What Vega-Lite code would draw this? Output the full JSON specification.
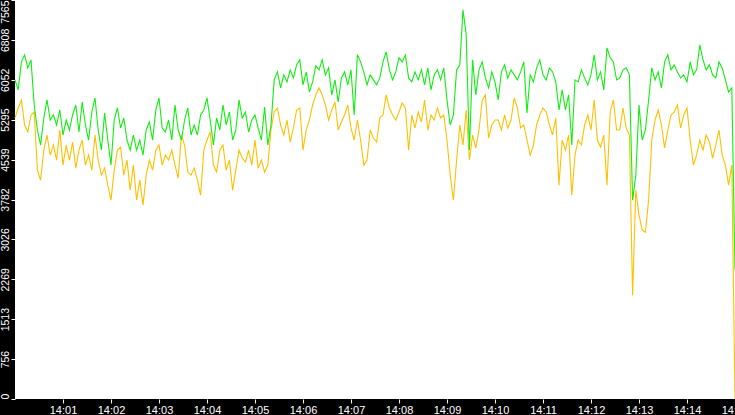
{
  "$schema": "https://vega.github.io/schema/vega-lite/v6.json",
  "description": "Two noisy series between 14:00 and 14:15",
  "width": 720,
  "height": 399,
  "autosize": "none",
  "padding": {"left": 15, "top": 0, "right": 0, "bottom": 16},
  "background": "black",
  "data": {
    "values": [
      {"s":0,"g":6050,"o":5328},{"s":4,"g":5860,"o":5518},{"s":8,"g":6392,"o":5670},{"s":12,"g":6525,"o":5195},
      {"s":16,"g":6278,"o":5062},{"s":20,"g":6430,"o":5385},{"s":24,"g":5575,"o":5442},{"s":28,"g":5100,"o":4340},
      {"s":32,"g":4815,"o":4150},{"s":36,"g":5328,"o":4720},{"s":40,"g":5670,"o":5005},{"s":44,"g":5290,"o":4625},
      {"s":48,"g":5385,"o":4815},{"s":52,"g":5195,"o":4530},{"s":56,"g":5480,"o":5100},{"s":60,"g":5005,"o":4435},
      {"s":64,"g":5290,"o":4815},{"s":68,"g":5100,"o":4530},{"s":72,"g":5385,"o":4872},{"s":76,"g":5575,"o":4378},
      {"s":80,"g":5062,"o":4720},{"s":84,"g":5632,"o":4910},{"s":88,"g":5195,"o":4435},{"s":92,"g":4910,"o":4625},
      {"s":96,"g":5442,"o":4340},{"s":100,"g":5708,"o":5005},{"s":104,"g":5100,"o":4530},{"s":108,"g":4720,"o":4245},
      {"s":112,"g":5423,"o":4378},{"s":116,"g":4910,"o":4055},{"s":120,"g":4435,"o":3770},{"s":124,"g":5290,"o":4340},
      {"s":128,"g":5518,"o":4720},{"s":132,"g":5138,"o":4777},{"s":136,"g":5328,"o":4245},{"s":140,"g":4910,"o":4530},
      {"s":144,"g":4720,"o":3960},{"s":148,"g":5005,"o":4435},{"s":152,"g":4720,"o":3770},{"s":156,"g":4910,"o":4150},
      {"s":160,"g":4625,"o":3675},{"s":164,"g":5100,"o":4245},{"s":168,"g":5252,"o":4530},{"s":172,"g":4910,"o":4340},
      {"s":176,"g":5480,"o":4720},{"s":180,"g":5708,"o":4815},{"s":184,"g":5138,"o":4435},{"s":188,"g":5062,"o":4625},
      {"s":192,"g":5290,"o":4530},{"s":196,"g":4910,"o":4720},{"s":200,"g":5575,"o":4435},{"s":204,"g":5100,"o":4188},
      {"s":208,"g":4910,"o":5005},{"s":212,"g":5290,"o":4815},{"s":216,"g":5518,"o":4302},{"s":220,"g":5005,"o":4245},
      {"s":224,"g":5195,"o":4378},{"s":228,"g":5005,"o":4150},{"s":232,"g":5385,"o":3865},{"s":236,"g":5480,"o":4720},
      {"s":240,"g":5708,"o":4910},{"s":244,"g":5290,"o":5062},{"s":248,"g":4815,"o":4435},{"s":252,"g":5328,"o":4302},
      {"s":256,"g":5100,"o":4720},{"s":260,"g":5575,"o":4815},{"s":264,"g":5195,"o":4340},{"s":268,"g":5442,"o":4530},
      {"s":272,"g":4910,"o":3960},{"s":276,"g":5100,"o":4340},{"s":280,"g":5670,"o":4720},{"s":284,"g":5328,"o":4568},
      {"s":288,"g":5442,"o":4492},{"s":292,"g":5062,"o":4720},{"s":296,"g":5290,"o":4435},{"s":300,"g":5385,"o":4910},
      {"s":304,"g":5138,"o":4378},{"s":308,"g":4910,"o":4530},{"s":312,"g":5537,"o":4302},{"s":316,"g":4815,"o":4435},
      {"s":320,"g":5195,"o":5100},{"s":324,"g":6050,"o":5442},{"s":328,"g":6202,"o":5518},{"s":332,"g":5898,"o":5195},
      {"s":336,"g":6145,"o":5005},{"s":340,"g":6012,"o":5290},{"s":344,"g":6240,"o":4872},{"s":348,"g":6088,"o":5138},
      {"s":352,"g":6335,"o":5480},{"s":356,"g":6430,"o":5518},{"s":360,"g":5955,"o":4720},{"s":364,"g":6202,"o":5100},
      {"s":368,"g":5822,"o":5290},{"s":372,"g":6012,"o":5575},{"s":376,"g":6316,"o":5765},{"s":380,"g":6240,"o":5898},
      {"s":384,"g":6430,"o":5765},{"s":388,"g":6145,"o":5575},{"s":392,"g":6278,"o":5290},{"s":396,"g":5765,"o":5480},
      {"s":400,"g":6050,"o":5632},{"s":404,"g":5632,"o":5100},{"s":408,"g":6088,"o":5252},{"s":412,"g":6202,"o":5385},
      {"s":416,"g":5955,"o":5575},{"s":420,"g":6240,"o":5138},{"s":424,"g":5385,"o":4910},{"s":428,"g":6525,"o":5290},
      {"s":432,"g":6392,"o":4910},{"s":436,"g":6202,"o":4435},{"s":440,"g":5955,"o":4530},{"s":444,"g":6145,"o":5100},
      {"s":448,"g":6050,"o":4948},{"s":452,"g":5955,"o":4872},{"s":456,"g":6088,"o":5328},{"s":460,"g":6392,"o":5385},
      {"s":464,"g":6582,"o":5765},{"s":468,"g":6240,"o":5518},{"s":472,"g":6050,"o":5385},{"s":476,"g":6202,"o":5290},
      {"s":480,"g":6468,"o":5442},{"s":484,"g":6392,"o":5613},{"s":488,"g":6525,"o":5518},{"s":492,"g":6088,"o":4720},
      {"s":496,"g":6012,"o":5385},{"s":500,"g":6202,"o":5138},{"s":504,"g":6050,"o":5442},{"s":508,"g":6240,"o":5252},
      {"s":512,"g":5955,"o":5670},{"s":516,"g":6278,"o":5100},{"s":520,"g":5860,"o":5385},{"s":524,"g":6145,"o":5290},
      {"s":528,"g":6240,"o":5518},{"s":532,"g":6050,"o":5328},{"s":536,"g":6278,"o":5385},{"s":540,"g":5670,"o":4910},
      {"s":544,"g":5195,"o":4245},{"s":548,"g":5385,"o":3770},{"s":552,"g":6240,"o":4530},{"s":556,"g":6335,"o":5195},
      {"s":560,"g":7380,"o":4815},{"s":564,"g":6905,"o":5480},{"s":568,"g":4720,"o":4530},{"s":572,"g":6430,"o":5005},
      {"s":576,"g":5765,"o":4758},{"s":580,"g":6240,"o":5100},{"s":584,"g":6392,"o":5670},{"s":588,"g":6088,"o":5765},
      {"s":592,"g":5898,"o":4948},{"s":596,"g":6202,"o":5195},{"s":600,"g":6012,"o":5290},{"s":604,"g":5670,"o":5290},
      {"s":608,"g":6202,"o":5100},{"s":612,"g":6335,"o":5385},{"s":616,"g":6088,"o":5138},{"s":620,"g":6240,"o":5290},
      {"s":624,"g":6145,"o":5708},{"s":628,"g":6050,"o":5518},{"s":632,"g":6202,"o":5138},{"s":636,"g":6392,"o":5195},
      {"s":640,"g":5423,"o":4910},{"s":644,"g":6145,"o":4625},{"s":648,"g":6012,"o":4815},{"s":652,"g":6278,"o":5195},
      {"s":656,"g":6430,"o":5385},{"s":660,"g":6145,"o":5518},{"s":664,"g":6050,"o":5442},{"s":668,"g":6278,"o":5195},
      {"s":672,"g":6202,"o":5005},{"s":676,"g":6012,"o":5328},{"s":680,"g":5480,"o":4055},{"s":684,"g":5860,"o":4910},
      {"s":688,"g":5480,"o":4720},{"s":692,"g":5765,"o":5005},{"s":696,"g":4815,"o":3865},{"s":700,"g":6050,"o":4625},
      {"s":704,"g":6012,"o":4910},{"s":708,"g":6240,"o":4815},{"s":712,"g":6088,"o":5195},{"s":716,"g":5955,"o":5385},
      {"s":720,"g":6145,"o":5100},{"s":724,"g":6525,"o":5670},{"s":728,"g":6050,"o":4910},{"s":732,"g":6202,"o":4777},
      {"s":736,"g":5860,"o":5005},{"s":740,"g":6658,"o":4055},{"s":744,"g":6468,"o":5442},{"s":748,"g":6392,"o":5670},
      {"s":752,"g":6050,"o":5100},{"s":756,"g":6088,"o":5100},{"s":760,"g":6240,"o":5518},{"s":764,"g":6278,"o":5138},
      {"s":768,"g":6145,"o":5005},{"s":772,"g":3770,"o":1965},{"s":776,"g":4245,"o":3960},{"s":780,"g":5575,"o":3485},
      {"s":784,"g":4910,"o":3200},{"s":788,"g":5100,"o":3162},{"s":792,"g":5670,"o":3770},{"s":796,"g":6278,"o":4910},
      {"s":800,"g":6050,"o":5290},{"s":804,"g":6202,"o":5480},{"s":808,"g":5898,"o":5195},{"s":812,"g":6392,"o":4758},
      {"s":816,"g":6525,"o":5100},{"s":820,"g":6240,"o":5385},{"s":824,"g":6335,"o":5442},{"s":828,"g":6202,"o":5575},
      {"s":832,"g":6088,"o":5138},{"s":836,"g":6145,"o":5385},{"s":840,"g":6012,"o":5518},{"s":844,"g":6392,"o":4910},
      {"s":848,"g":6145,"o":4435},{"s":852,"g":6240,"o":4625},{"s":856,"g":6715,"o":4910},{"s":860,"g":6430,"o":4720},
      {"s":864,"g":6240,"o":5005},{"s":868,"g":6335,"o":4872},{"s":872,"g":6145,"o":4568},{"s":876,"g":6088,"o":4815},
      {"s":880,"g":6392,"o":5100},{"s":884,"g":6278,"o":4625},{"s":888,"g":6050,"o":4435},{"s":892,"g":5822,"o":4055},
      {"s":896,"g":5898,"o":4435},{"s":900,"g":2440,"o":0}
    ]
  },
  "transform": [
    {"fold": ["o", "g"], "as": ["series", "value"]}
  ],
  "mark": {"type": "line", "strokeWidth": 1.1},
  "encoding": {
    "x": {
      "field": "s",
      "type": "quantitative",
      "scale": {"domain": [0, 900], "nice": false, "zero": false},
      "axis": {
        "title": null,
        "values": [60, 120, 180, 240, 300, 360, 420, 480, 540, 600, 660, 720, 780, 840, 900],
        "labelExpr": "'14:' + (datum.value < 600 ? '0' : '') + datum.value / 60",
        "labelColor": "white",
        "labelFont": "Liberation Sans",
        "labelFontSize": 11,
        "labelPadding": 1,
        "labelOverlap": false,
        "labelBound": false,
        "labelFlush": false,
        "tickColor": "white",
        "tickSize": 4,
        "domain": false,
        "grid": false
      }
    },
    "y": {
      "field": "value",
      "type": "quantitative",
      "scale": {"domain": [0, 7565], "nice": false},
      "axis": {
        "title": null,
        "values": [0, 756.5, 1513, 2269.5, 3026, 3782.5, 4539, 5295.5, 6052, 6808.5, 7565],
        "labelExpr": "floor(datum.value)",
        "labelAngle": -90,
        "labelAlign": {"condition": [
          {"test": "datum.value == 0", "value": "left"},
          {"test": "datum.value == 7565", "value": "right"}
        ], "value": "center"},
        "labelBaseline": "bottom",
        "labelColor": "white",
        "labelFont": "Liberation Sans",
        "labelFontSize": 10.5,
        "labelPadding": 1,
        "labelOverlap": false,
        "labelSeparation": 0,
        "labelBound": false,
        "labelFlush": false,
        "tickColor": "white",
        "tickSize": 4,
        "domain": false,
        "grid": false
      }
    },
    "color": {
      "field": "series",
      "type": "nominal",
      "scale": {"domain": ["o", "g"], "range": ["#ffc000", "#11ee11"]},
      "legend": null
    }
  },
  "config": {
    "view": {"fill": "white", "stroke": null}
  }
}
